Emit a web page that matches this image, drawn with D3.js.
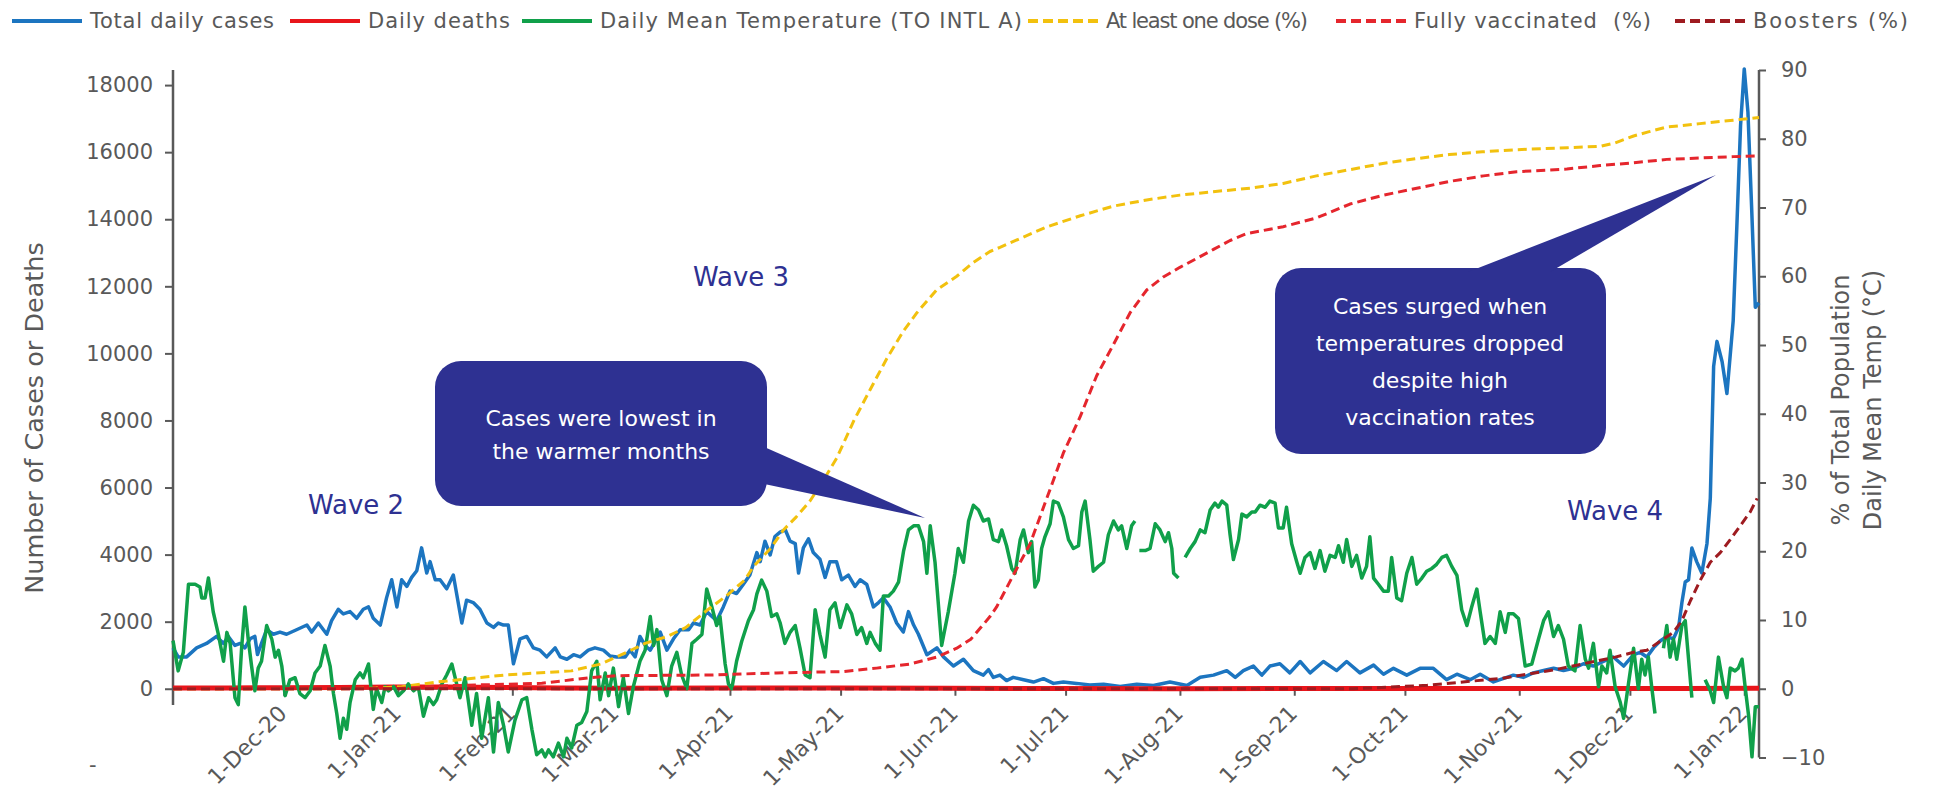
<!DOCTYPE html>
<html>
<head>
<meta charset="utf-8">
<script src="https://cdn.jsdelivr.net/npm/d3@7/dist/d3.min.js"></script>
<style>
  html, body { margin: 0; padding: 0; background: #ffffff; }
  svg { display: block; font-family: "DejaVu Sans", "Open Sans", sans-serif; }
</style>
</head>
<body>
<svg id="chart" width="1936" height="797"></svg>
<script>
// ---------------- DATA (day offset from 1-Nov-2020, value) ----------------
const monthTicks = ["2020-12-01","2021-01-01","2021-02-01","2021-03-01","2021-04-01","2021-05-01","2021-06-01",
  "2021-07-01","2021-08-01","2021-09-01","2021-10-01","2021-11-01","2021-12-01","2022-01-01"];
const leftTicks = [0, 2000, 4000, 6000, 8000, 10000, 12000, 14000, 16000, 18000];
const rightTicks = [-10, 0, 10, 20, 30, 40, 50, 60, 70, 80, 90];

const cases = [[0,1220],[1.4,950],[3.7,950],[6.4,1220],[9.1,1350],[11.8,1560],[13.7,1350],[15,1560],[16.8,1290],[18.2,1350],[19.5,1220],[20.9,1490],[22.2,1560],[22.9,1020],[24,1350],[25.4,1760],[27.2,1625],[29,1690],[30.8,1625],[33.5,1760],[36.3,1900],[37.6,1690],[39.4,1960],[41.7,1625],[43,2030],[44.8,2370],[46.2,2230],[48,2300],[49.8,2100],[51.6,2370],[53,2440],[54.3,2100],[56.2,1900],[57.9,2710],[59.3,3250],[60.7,2440],[62,3250],[63.4,3050],[64.7,3320],[66.1,3520],[67.4,4200],[68.8,3450],[69.7,3790],[71.1,3250],[72.4,3250],[74.2,2980],[76,3390],[78.3,1960],[79.6,2640],[81.4,2570],[83.2,2370],[85.1,1960],[86.9,1830],[88.2,1960],[89.6,1900],[90.9,1900],[92.3,745],[94.1,1490],[95.9,1560],[97.7,1220],[99.5,1150],[101.3,950],[103.6,1220],[105,950],[106.8,880],[108.6,1015],[110.4,950],[112.6,1150],[114.4,1220],[116.7,1150],[118.5,975],[120.3,950],[122.6,950],[123.9,1150],[125.3,950],[126.6,1560],[128,1290],[129.4,1150],[132.1,1690],[133.9,1150],[135.7,1490],[137.5,1760],[139.8,1760],[141.1,1960],[142.9,1900],[144.7,2300],[147.4,2030],[149.2,2440],[151,2910],[152.8,2840],[154.6,3110],[156.4,3390],[158.3,4060],[159.2,3790],[160.5,4400],[161.9,3990],[163.2,4540],[164.6,4670],[166,4740],[167.3,4400],[168.7,4330],[169.6,3450],[170.9,4200],[172.3,4470],[173.6,4060],[175.4,3860],[176.8,3320],[178.1,3790],[179.9,3790],[181.3,3250],[183.1,3390],[184.9,3050],[186.3,3250],[188.1,3110],[189.9,2440],[191.3,2570],[192.6,2710],[194.4,2440],[196.2,1960],[198,1690],[199.4,2300],[200.8,1900],[202.1,1625],[204.4,1015],[207.1,1220],[208.9,950],[211.6,680],[214.3,880],[217,540],[219.7,406],[221.1,570],[222.4,340],[224.2,406],[226,244],[227.8,340],[230.6,270],[233.3,200],[236,300],[238.7,160],[241.4,200],[245,160],[248.6,110],[252.3,135],[256.8,70],[261.3,135],[265.8,95],[270.3,200],[274.9,95],[278.5,340],[282.1,406],[285.7,540],[288,340],[290.2,540],[292.9,677],[295.2,406],[297.4,677],[300.1,745],[302.8,474],[305.6,812],[308.3,474],[311.9,812],[315.5,542],[318.2,812],[321.8,474],[325.5,704],[328.2,433],[330.9,609],[334.5,406],[338.1,609],[341.7,609],[345.3,271],[348.1,433],[351.7,271],[354.4,433],[358,203],[361.6,339],[363.4,406],[366.1,339],[368.8,474],[371.6,542],[374.3,609],[377,542],[379.7,609],[382.4,745],[385.1,677],[387.8,812],[390.5,948],[393.3,677],[396,1015],[397.8,1083],[399.6,948],[401.4,1219],[403.2,1422],[405,1557],[406.8,1489],[408.2,1828],[409.1,2573],[410,3182],[410.9,3250],[411.8,4197],[413.1,3791],[414.5,3453],[415.9,4333],[416.8,5687],[417.7,9613],[418.6,10358],[420,9749],[421.3,8801],[423,10967],[424,13811],[425,16790],[426,18482],[427,17196],[428,14352],[429,11374],[430,11509]];

const deaths = [[0,20],[15,25],[30,30],[45,40],[60,50],[75,55],[90,35],[105,20],[120,15],[150,20],[180,25],[210,15],[240,5],[270,3],[300,5],[330,5],[360,5],[390,8],[410,10],[430,15]];

const temperature = [[0,7],[1.4,2.6],[2.8,5.3],[4.2,15.2],[6,15.2],[7.3,14.8],[7.8,13.2],[8.7,13.2],[9.6,16.1],[10.9,11.2],[12.3,7.9],[13.7,4],[14.6,8.2],[15.5,6.6],[16.8,-1.3],[17.7,-2.3],[18.6,5.9],[19.5,11.9],[20.4,7.2],[21.3,3.3],[22.2,-0.3],[23.1,3],[24,4],[25.4,9.2],[26.8,7.2],[27.7,4.6],[28.6,5.6],[29.5,3.3],[30.4,-1],[31.7,1.3],[33.1,1.6],[34.4,-0.7],[35.8,-1.3],[37.2,-0.3],[38.5,2.3],[39.9,3.3],[41.2,6.3],[42.6,3.3],[43.5,-0.7],[44.4,-3.6],[45.3,-7.2],[46.2,-4.3],[47.1,-5.9],[48,-2],[49.4,1.3],[50.7,2.3],[51.6,1.6],[53,3.6],[54.3,-3],[55.2,0],[56.6,-2],[57.5,0.3],[58.4,-0.3],[59.8,0.3],[61.1,-1],[62.5,-0.3],[63.8,0.7],[65.2,-0.3],[66.5,0.3],[67.9,-4],[69.3,-1.3],[70.6,-2.3],[71.5,-1.6],[72.9,0.7],[74.2,2],[75.6,3.6],[77.8,-1.3],[79.2,1.6],[81,-5.3],[82.3,-0.7],[83.7,-7.2],[85.5,-1.3],[86.9,-9.2],[88.2,-2],[89.6,-5.3],[90.9,-9.2],[92.7,-4.6],[94.6,-1.6],[95.9,-1.3],[97.3,-5.9],[98.6,-9.6],[100,-8.9],[100.9,-9.9],[101.8,-8.9],[103.1,-9.9],[104.5,-7.9],[105.9,-9.9],[106.8,-7.2],[108.1,-8.6],[109.5,-5.3],[110.8,-4.9],[112.2,-3.3],[113.5,2.6],[114.9,4],[115.8,-1.6],[117.2,2.3],[118.1,-1],[119.4,3],[120.8,-2.6],[122.1,1.6],[123.5,-3.6],[124.8,0.3],[126.6,4],[128,5.6],[129.4,10.5],[130.3,6.3],[131.2,8.6],[132.5,1.3],[133.9,-1],[135.2,3.3],[136.6,5.3],[137.9,2],[139.3,0],[140.7,6.6],[142,7.2],[143.4,7.9],[144.7,14.5],[146.1,11.9],[147.4,9.2],[148.3,10.5],[149.7,3.6],[150.6,0.7],[151.5,0],[152.8,4],[154.2,6.9],[156,9.9],[157.4,11.5],[158.3,13.8],[159.6,15.8],[161,14.2],[162.3,10.5],[163.7,10.9],[164.6,9.6],[165.9,6.6],[167.3,8.2],[168.7,9.2],[170,5.9],[171.4,2],[172.7,1.6],[174.1,11.5],[175.4,7.9],[176.8,4.6],[178.1,11.5],[179.5,12.5],[180.9,8.9],[182.7,12.2],[184,10.9],[185.4,7.9],[186.7,8.9],[188.1,6.6],[189,8.2],[190.4,6.6],[191.7,5.6],[192.6,13.5],[194,13.5],[195.3,14.2],[196.7,15.5],[198.1,20.1],[199.4,23.1],[200.8,23.7],[202.1,23.7],[203.5,21.4],[204.4,16.8],[205.3,23.7],[206.6,18.4],[208.4,6.3],[210.2,11.2],[212,16.8],[212.9,20.4],[214.3,18.4],[215.7,24.4],[217,26.7],[218.4,26],[219.7,24.4],[221.1,24.7],[222.4,21.7],[223.8,21.4],[224.7,23.1],[226,20.8],[227.4,17.5],[228.3,16.8],[229.7,21.7],[230.6,23.1],[231.9,19.8],[232.8,21.4],[233.7,14.8],[234.6,15.8],[235.5,20.4],[236.4,22.1],[237.8,24],[238.7,27.3],[240,27],[241.4,25],[242.8,21.7],[244.1,20.4],[245.5,20.8],[246.4,25.7],[247.3,27.3],[248.6,21.7],[249.5,17.1],[250.9,17.8],[252.3,18.4],[253.6,22.4],[255,24.4],[256.3,23.1],[257.2,23.7],[258.6,20.4],[259.9,23.7],[260.8,24.4],[261.4,null],[262,20.1],[263.6,20.1],[264.9,20.4],[266.3,24],[267.6,23.1],[269,21.4],[269.9,22.7],[270.8,20.4],[271.3,16.8],[272.6,16.1],[273.5,null],[274.4,19.1],[275.8,20.4],[277.1,21.4],[278.5,23.1],[279.8,22.7],[281.2,26],[282.5,27],[283.4,26.4],[284.4,27.3],[285.7,26.7],[286.6,22.4],[287.5,18.8],[288.9,21.7],[289.8,25.4],[291.1,25],[292.5,25.7],[293.4,25.7],[294.7,26.7],[296.1,26.4],[297.4,27.3],[298.8,27],[299.7,23.4],[301,23.4],[301.9,26.4],[303.3,21.1],[304.7,18.4],[305.6,16.8],[306.9,19.1],[308.3,19.8],[309.6,17.5],[311,20.1],[312.3,17.1],[313.7,19.4],[315.1,19.1],[316,20.8],[317.3,18.4],[318.2,21.7],[319.6,17.8],[320.9,19.4],[322.3,16.1],[323.6,17.8],[324.5,22.1],[325.5,16.1],[326.8,15.2],[328.2,14.2],[329.5,14.2],[330.4,19.1],[331.8,13.2],[333.1,12.8],[334.5,16.8],[335.9,19.1],[337.2,15.2],[338.6,16.1],[339.9,17.1],[341.3,17.5],[342.6,18.1],[344,19.1],[345.3,19.4],[346.7,17.8],[348.1,16.5],[349.4,11.5],[350.8,9.2],[352.1,11.9],[353.5,14.5],[354.4,11.2],[355.7,6.6],[357.1,7.6],[358.5,6.6],[359.8,11.2],[361.2,8.2],[362.1,10.9],[363.4,10.9],[364.8,10.2],[366.6,3.3],[368.4,3.6],[370.2,7.2],[371.6,9.9],[372.9,11.2],[374.3,7.6],[375.6,9.2],[377,7.2],[378.3,3.3],[380.1,2.6],[381.5,9.2],[382.9,4.3],[383.8,3],[385.1,6.6],[386.5,0.3],[387.4,3.3],[388.7,2.3],[389.6,5.6],[391,0.3],[392.4,-2],[393.3,-4.3],[394.6,0.7],[396,5.9],[397.3,0],[398.2,4.3],[399.1,2],[400,4.6],[400.9,0.3],[401.8,-3.6],[403,null],[404.1,5.9],[405,9.2],[405.9,4.6],[406.8,7.2],[407.7,4.3],[409.1,9.2],[410,9.9],[410.9,4.3],[411.8,-1.3],[413.5,null],[415.4,1.3],[416.8,-0.3],[417.7,-2],[419,4.6],[420.4,0.3],[421.3,-1.3],[422.2,3],[423.5,2.6],[424.4,3],[425.4,4.3],[426.3,0],[427.2,-4],[428.1,-9.9],[429,-2.6],[430,-2.6]];

const atLeastOneDose = [[0,0],[45,0],[55,0.1],[62,0.3],[72,1],[90,2],[108,2.6],[116,3.6],[123,5.3],[128,6.6],[134,7.6],[139,8.9],[145,11.5],[150,13.5],[155,15.8],[157.4,17.8],[162,20.4],[165.5,23.1],[169,25],[172.7,27.3],[176.3,30.3],[180,33.6],[184.5,38.9],[189,43.5],[193.5,48],[198,52],[201.7,54.7],[207,58],[212.5,60],[217,62],[221.5,63.6],[224.2,64.2],[229.7,65.5],[237,67.2],[246,68.8],[255,70.2],[264,71.1],[273,71.8],[282,72.3],[292,72.8],[301,73.5],[310,74.6],[319,75.5],[328,76.4],[337,77.1],[346,77.7],[355,78.1],[364,78.4],[378,78.7],[387,78.9],[391,79.4],[396,80.4],[400,81],[405,81.7],[414,82.2],[423,82.7],[430,83.1]];

const fullyVaccinated = [[0,0],[60,0],[72,0.4],[100,0.8],[113,1.6],[120,1.9],[145.6,2],[163.7,2.3],[181.8,2.5],[190.8,3],[199.9,3.6],[207.1,4.6],[212.5,5.9],[216.3,7.2],[219,8.9],[221.5,10.5],[223.3,11.9],[227.8,16.5],[232.4,21.1],[236.9,27.7],[241.4,34.3],[245.9,39.5],[250.4,45.5],[255,50.1],[259.5,54.7],[264,58],[268.5,59.9],[273,61.3],[277.6,62.6],[282.1,63.9],[286.6,65.2],[291.1,66.2],[301,67.2],[310.1,68.5],[319.1,70.5],[328.2,71.8],[337.2,72.8],[346.2,73.8],[355.3,74.6],[364.3,75.2],[377.9,75.6],[386.9,76.1],[396,76.5],[405,77],[414,77.2],[423.1,77.4],[430,77.5]];

const boosters = [[0,0],[320,0],[340,0.5],[360,1.5],[375,2.8],[391,4.6],[396,5.3],[399.6,5.6],[403.2,6.9],[406.8,8.2],[409.1,9.9],[411.4,12.8],[414.1,15.8],[416.8,18.4],[419.5,19.8],[422.2,21.7],[424.9,23.7],[427.6,25.7],[429.5,27.7]];

const legendNames = ["Total daily cases", "Daily deaths", "Daily Mean Temperature (TO INTL A)",
  "At least one dose (%)", "Fully vaccinated  (%)", "Boosters (%)"];
const callout1Lines = ["Cases were lowest in", "the warmer months"];
const callout2Lines = ["Cases surged when", "temperatures dropped", "despite high", "vaccination rates"];
const waveLabels = ["Wave 2", "Wave 3", "Wave 4"];

// ---------------- LAYOUT / STYLE ----------------
const DAY = 864e5, START = Date.UTC(2020, 10, 1);
const dayToDate = d => new Date(START + d * DAY);
const GRAY = "#595959", INDIGO = "#2E3192";
const FONT = "'DejaVu Sans', sans-serif";
const M = {left: 173, right: 1759, top: 70, bottom: 757.5};

const svg = d3.select("#chart");
const x = d3.scaleUtc().domain([dayToDate(0), dayToDate(430)]).range([M.left, M.right]);
const yL = d3.scaleLinear().domain([-2050, 18450]).range([M.bottom, M.top]);
const yR = d3.scaleLinear().domain([-10, 90]).range([M.bottom, M.top]);
const y0 = yR(0);

// ---------------- AXES ----------------
const xAxis = d3.axisBottom(x)
  .tickValues(monthTicks.map(s => new Date(s + "T00:00:00Z")))
  .tickSize(7)
  .tickFormat(d3.utcFormat("%-d-%b-%y"));
const gx = svg.append("g").attr("transform", `translate(0,${y0})`).call(xAxis);
gx.select(".domain").remove();
gx.selectAll(".tick line").attr("stroke", GRAY).attr("stroke-width", 2);
gx.selectAll(".tick text")
  .attr("x", 0).attr("y", 0).attr("dy", 0)
  .attr("transform", "translate(4,26) rotate(-45)")
  .attr("text-anchor", "end")
  .attr("fill", GRAY)
  .style("font-size", "22px")
  .style("font-family", FONT);
svg.append("line").attr("x1", M.left).attr("x2", M.right).attr("y1", y0).attr("y2", y0)
  .attr("stroke", GRAY).attr("stroke-width", 2);

const gl = svg.append("g").attr("transform", `translate(${M.left},0)`)
  .call(d3.axisLeft(yL).tickValues(leftTicks).tickSize(8).tickPadding(12).tickFormat(d3.format("d")));
gl.select(".domain").remove();
gl.selectAll(".tick line").attr("stroke", GRAY).attr("stroke-width", 2);
gl.selectAll(".tick text").attr("fill", GRAY).style("font-size", "21px").style("font-family", FONT);
svg.append("line").attr("x1", M.left).attr("x2", M.left).attr("y1", M.top).attr("y2", 705)
  .attr("stroke", GRAY).attr("stroke-width", 2.5);
// partially hidden "-2000" label (only the minus sign is visible)
svg.append("text").attr("x", 89).attr("y", 765).attr("dy", "0.35em")
  .attr("fill", GRAY).style("font-size", "21px").text("-");

const gr = svg.append("g").attr("transform", `translate(${M.right},0)`)
  .call(d3.axisRight(yR).tickValues(rightTicks).tickSize(7).tickPadding(15));
gr.select(".domain").remove();
gr.selectAll(".tick line").attr("stroke", GRAY).attr("stroke-width", 2);
gr.selectAll(".tick text").attr("fill", GRAY).style("font-size", "21px").style("font-family", FONT);
svg.append("line").attr("x1", M.right).attr("x2", M.right).attr("y1", M.top).attr("y2", M.bottom)
  .attr("stroke", GRAY).attr("stroke-width", 2.5);

// axis titles
svg.append("text").attr("transform", "translate(34,418) rotate(-90)")
  .attr("text-anchor", "middle").attr("dominant-baseline", "central")
  .attr("fill", GRAY).style("font-size", "25.5px").text("Number of Cases or Deaths");
svg.append("text").attr("transform", "translate(1841,400) rotate(-90)")
  .attr("text-anchor", "middle").attr("dominant-baseline", "central")
  .attr("fill", GRAY).style("font-size", "24px").text("% of Total Population");
svg.append("text").attr("transform", "translate(1873,400) rotate(-90)")
  .attr("text-anchor", "middle").attr("dominant-baseline", "central")
  .attr("fill", GRAY).style("font-size", "24px").text("Daily Mean Temp (°C)");

// ---------------- SERIES ----------------
const series = [
  {data: cases, y: yL, color: "#1C75C0", width: 3.5, dash: null},
  {data: deaths, y: yL, color: "#E8151B", width: 5, dash: null},
  {data: temperature, y: yR, color: "#10A04A", width: 3.5, dash: null},
  {data: atLeastOneDose, y: yR, color: "#F2C10E", width: 3, dash: "9,5"},
  {data: fullyVaccinated, y: yR, color: "#E5262D", width: 3, dash: "9,5"},
  {data: boosters, y: yR, color: "#9E1B20", width: 3, dash: "9,5"}
];
series.forEach(s => {
  const line = d3.line()
    .defined(d => d[1] !== null)
    .x(d => x(dayToDate(d[0])))
    .y(d => s.y(d[1]));
  svg.append("path").datum(s.data)
    .attr("d", line)
    .attr("fill", "none")
    .attr("stroke", s.color)
    .attr("stroke-width", s.width)
    .attr("stroke-linejoin", "round")
    .attr("stroke-dasharray", s.dash);
});

// ---------------- ANNOTATIONS ----------------
function callout(rect, pointer, lines, cx, ys) {
  const g = svg.append("g");
  g.append("rect").attr("x", rect[0]).attr("y", rect[1]).attr("width", rect[2]).attr("height", rect[3])
    .attr("rx", 26).attr("fill", INDIGO);
  g.append("polygon").attr("points", pointer.map(p => p.join(",")).join(" ")).attr("fill", INDIGO);
  lines.forEach((t, i) => {
    g.append("text").attr("x", cx).attr("y", ys[i]).attr("text-anchor", "middle")
      .attr("dominant-baseline", "central").attr("fill", "#ffffff")
      .style("font-size", "22px").text(t);
  });
}
callout([435, 361, 332, 145], [[760, 445], [925, 518], [760, 483]], callout1Lines, 601, [418, 451]);
callout([1275, 268, 331, 186], [[1468, 272], [1716, 175], [1550, 272]], callout2Lines, 1440, [306, 343, 380, 417]);

const wavePos = [[356, 505], [741, 277], [1615, 511]];
waveLabels.forEach((t, i) => {
  svg.append("text").attr("x", wavePos[i][0]).attr("y", wavePos[i][1])
    .attr("text-anchor", "middle").attr("dominant-baseline", "central")
    .attr("fill", INDIGO).style("font-size", "26px").text(t);
});

// ---------------- LEGEND ----------------
const legendX = [12, 290, 522, 1028, 1336, 1675];
const legendTextW = [184, 142, 422, 202, 237, 155];
legendNames.forEach((name, i) => {
  const s = series[i];
  const g = svg.append("g").attr("transform", `translate(${legendX[i]},21)`);
  g.append("line").attr("x1", 0).attr("x2", 70).attr("y1", 0).attr("y2", 0)
    .attr("stroke", s.color).attr("stroke-width", 4)
    .attr("stroke-dasharray", s.dash ? "10,5" : null);
  g.append("text").attr("x", 78).attr("y", 0).attr("dominant-baseline", "central")
    .attr("fill", GRAY).style("font-size", "21px").style("white-space", "pre")
    .attr("textLength", legendTextW[i]).attr("lengthAdjust", "spacing")
    .text(name);
});
</script>
</body>
</html>
